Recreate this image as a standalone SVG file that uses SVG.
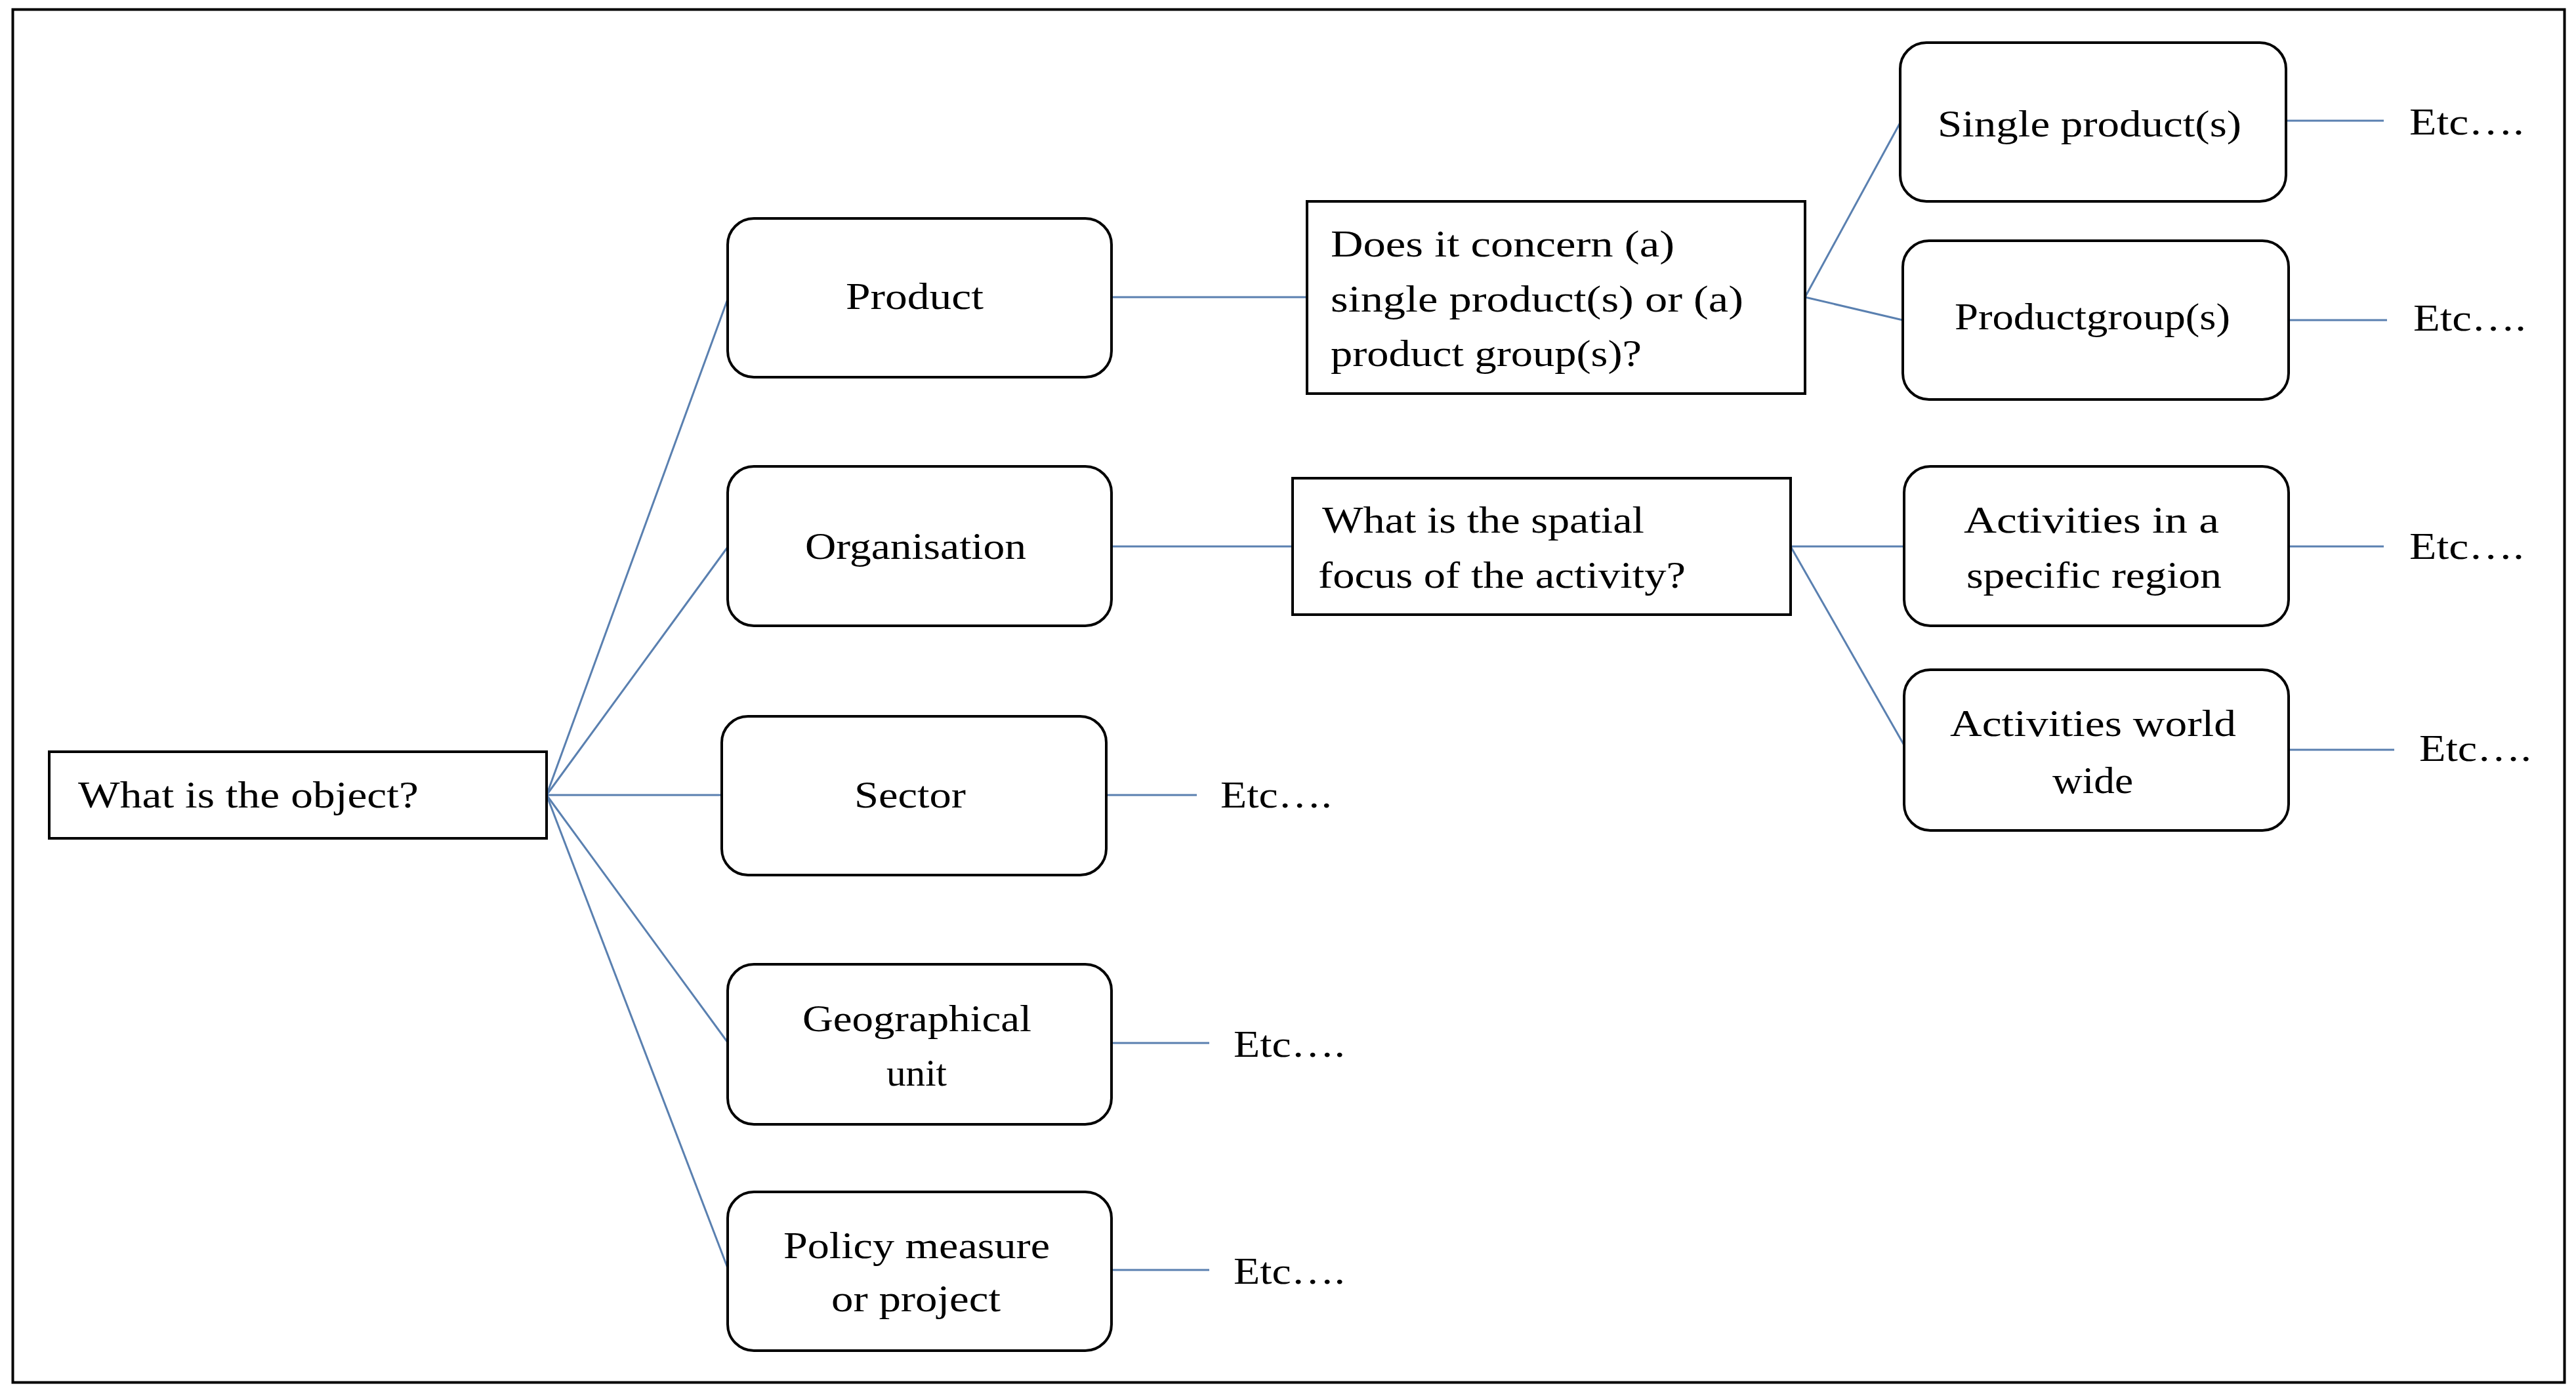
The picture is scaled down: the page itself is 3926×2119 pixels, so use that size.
<svg xmlns="http://www.w3.org/2000/svg" width="3926" height="2119" viewBox="0 0 3926 2119">
<style>
.frame{fill:#fff;stroke:#000;stroke-width:4}
.rbox{fill:#fff;stroke:#000;stroke-width:4}
.qbox{fill:#fff;stroke:#000;stroke-width:4}
.t{font-family:"Liberation Serif","Times New Roman",serif;font-size:58px;fill:#000}
.c{stroke:#5a80b0;stroke-width:3;fill:none;stroke-linecap:butt}
</style>
<rect class="frame" x="19.5" y="14.5" width="3889" height="2093"/>
<g id="connectors">
<line class="c" x1="833" y1="1212" x2="1109" y2="456"/>
<line class="c" x1="833" y1="1212" x2="1109" y2="834"/>
<line class="c" x1="833" y1="1212" x2="1100" y2="1212"/>
<line class="c" x1="833" y1="1212" x2="1109" y2="1589"/>
<line class="c" x1="833" y1="1212" x2="1109" y2="1933"/>
<line class="c" x1="1694" y1="453" x2="1992" y2="453"/>
<line class="c" x1="2751" y1="453" x2="2896" y2="187"/>
<line class="c" x1="2751" y1="453" x2="2900" y2="488"/>
<line class="c" x1="3484" y1="184" x2="3633" y2="184"/>
<line class="c" x1="3488" y1="488" x2="3638" y2="488"/>
<line class="c" x1="1694" y1="833" x2="1970" y2="833"/>
<line class="c" x1="2729" y1="833" x2="2902" y2="833"/>
<line class="c" x1="2729" y1="833" x2="2902" y2="1136"/>
<line class="c" x1="3488" y1="833" x2="3633" y2="833"/>
<line class="c" x1="3488" y1="1143" x2="3649" y2="1143"/>
<line class="c" x1="1686" y1="1212" x2="1824" y2="1212"/>
<line class="c" x1="1694" y1="1590" x2="1843" y2="1590"/>
<line class="c" x1="1694" y1="1936" x2="1843" y2="1936"/>
</g>
<g id="root">
<rect class="qbox" x="75" y="1146" width="758" height="132"/>
<text class="t" x="119" y="1231" textLength="519" lengthAdjust="spacingAndGlyphs">What is the object?</text>
</g>
<g id="product">
<rect class="rbox" x="1109" y="333" width="585" height="242" rx="40"/>
<text class="t" x="1289" y="471" textLength="210" lengthAdjust="spacingAndGlyphs">Product</text>
</g>
<g id="organisation">
<rect class="rbox" x="1109" y="711" width="585" height="243" rx="40"/>
<text class="t" x="1227" y="852" textLength="337" lengthAdjust="spacingAndGlyphs">Organisation</text>
</g>
<g id="sector">
<rect class="rbox" x="1100" y="1092" width="586" height="242" rx="40"/>
<text class="t" x="1302" y="1231" textLength="170" lengthAdjust="spacingAndGlyphs">Sector</text>
</g>
<g id="geographical">
<rect class="rbox" x="1109" y="1470" width="585" height="244" rx="40"/>
<text class="t" x="1223" y="1572" textLength="349" lengthAdjust="spacingAndGlyphs">Geographical</text>
<text class="t" x="1351" y="1655" textLength="92" lengthAdjust="spacingAndGlyphs">unit</text>
</g>
<g id="policy">
<rect class="rbox" x="1109" y="1817" width="585" height="242" rx="40"/>
<text class="t" x="1194" y="1918" textLength="406" lengthAdjust="spacingAndGlyphs">Policy measure</text>
<text class="t" x="1267" y="1999" textLength="258" lengthAdjust="spacingAndGlyphs">or project</text>
</g>
<g id="q-product">
<rect class="qbox" x="1992" y="307" width="759" height="293"/>
<text class="t" x="2028" y="391" textLength="524" lengthAdjust="spacingAndGlyphs">Does it concern (a)</text>
<text class="t" x="2028" y="475" textLength="629" lengthAdjust="spacingAndGlyphs">single product(s) or (a)</text>
<text class="t" x="2028" y="558" textLength="474" lengthAdjust="spacingAndGlyphs">product group(s)?</text>
</g>
<g id="q-spatial">
<rect class="qbox" x="1970" y="729" width="759" height="208"/>
<text class="t" x="2015" y="812" textLength="491" lengthAdjust="spacingAndGlyphs">What is the spatial</text>
<text class="t" x="2009" y="896" textLength="560" lengthAdjust="spacingAndGlyphs">focus of the activity?</text>
</g>
<g id="single-product">
<rect class="rbox" x="2896" y="65" width="588" height="242" rx="40"/>
<text class="t" x="2953" y="208" textLength="463" lengthAdjust="spacingAndGlyphs">Single product(s)</text>
</g>
<g id="productgroup">
<rect class="rbox" x="2900" y="367" width="588" height="242" rx="40"/>
<text class="t" x="2979" y="502" textLength="420" lengthAdjust="spacingAndGlyphs">Productgroup(s)</text>
</g>
<g id="activities-region">
<rect class="rbox" x="2902" y="711" width="586" height="243" rx="40"/>
<text class="t" x="2993" y="812" textLength="389" lengthAdjust="spacingAndGlyphs">Activities in a</text>
<text class="t" x="2997" y="896" textLength="389" lengthAdjust="spacingAndGlyphs">specific region</text>
</g>
<g id="activities-world">
<rect class="rbox" x="2902" y="1021" width="586" height="245" rx="40"/>
<text class="t" x="2972" y="1122" textLength="436" lengthAdjust="spacingAndGlyphs">Activities world</text>
<text class="t" x="3128" y="1209" textLength="123" lengthAdjust="spacingAndGlyphs">wide</text>
</g>
<g id="etc-labels">
<text class="t" x="3672" y="205" textLength="175" lengthAdjust="spacingAndGlyphs">Etc….</text>
<text class="t" x="3678" y="504" textLength="172" lengthAdjust="spacingAndGlyphs">Etc….</text>
<text class="t" x="3672" y="852" textLength="175" lengthAdjust="spacingAndGlyphs">Etc….</text>
<text class="t" x="3687" y="1160" textLength="171" lengthAdjust="spacingAndGlyphs">Etc….</text>
<text class="t" x="1860" y="1231" textLength="170" lengthAdjust="spacingAndGlyphs">Etc….</text>
<text class="t" x="1880" y="1611" textLength="170" lengthAdjust="spacingAndGlyphs">Etc….</text>
<text class="t" x="1880" y="1957" textLength="170" lengthAdjust="spacingAndGlyphs">Etc….</text>
</g>
</svg>
